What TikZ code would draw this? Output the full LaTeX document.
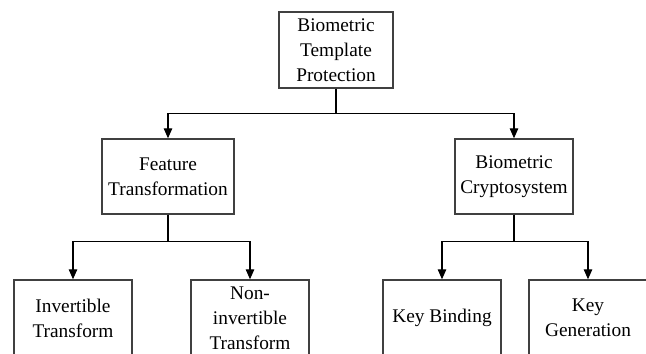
\documentclass[tikz,border=0pt]{standalone}
\usepackage{fontspec}
\setmainfont{Liberation Serif}
\usetikzlibrary{arrows.meta,positioning}

\begin{document}
\begin{tikzpicture}[x=0.02cm,y=-0.02cm]

      \tikzstyle{block}=[rectangle,draw=black!75,line width=0.8pt,
        minimum width=2.36cm,minimum height=1.52cm,
        text centered,align=center,inner sep=2pt,
        font=\fontsize{11}{14.2}\selectfont]
      \tikzstyle{conn}=[line width=0.7pt,
        -{Triangle[width=0.17cm,length=0.2cm]}]

      \useasboundingbox (0,0) rectangle (646,354);

      \node(Root)[block,minimum width=2.28cm] at (336,50)
        {Biometric\\Template\\Protection};

      \node(Feature)[block,minimum width=2.64cm,minimum height=1.5cm]
        at (168,176.5) {Feature\\Transformation};
      \node(Crypto)[block,minimum height=1.5cm]
        at (514,176.5) {Biometric\\Cryptosystem};

      \node(Invertible)[block] at (73,318) {Invertible\\Transform};
      \node(NonInvertible)[block] at (250,318)
        {Non-\\invertible\\Transform};
      \node(KeyBinding)[block] at (442,318) {Key Binding};
      \node(KeyGeneration)[block] at (588,318) {Key\\Generation};

      \draw [conn] (Root.south)--++(0,-0.5cm)-|(Feature.north);
      \draw [conn] (Root.south)--++(0,-0.5cm)-|(Crypto.north);

      \draw [conn] (Feature.south)--++(0,-0.54cm)-|(Invertible.north);
      \draw [conn] (Feature.south)--++(0,-0.54cm)-|(NonInvertible.north);

      \draw [conn] (Crypto.south)--++(0,-0.54cm)-|(KeyBinding.north);
      \draw [conn] (Crypto.south)--++(0,-0.54cm)-|(KeyGeneration.north);

    \end{tikzpicture}
\end{document}
